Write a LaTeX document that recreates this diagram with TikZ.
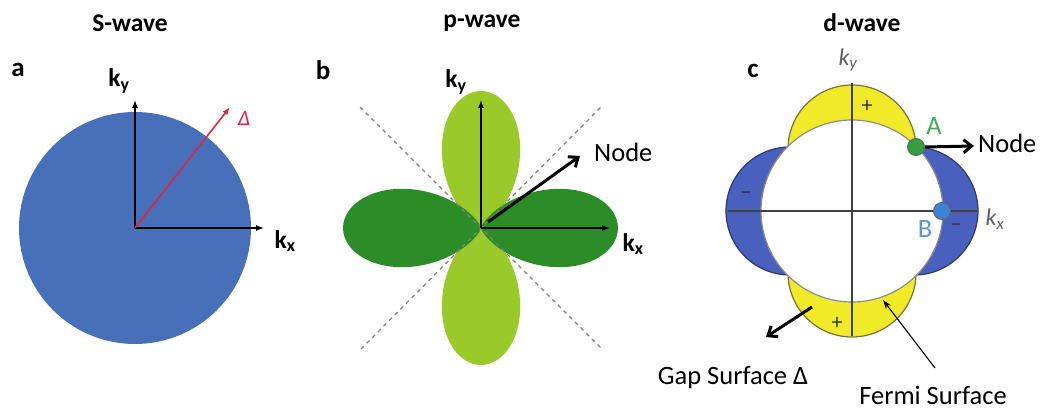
\documentclass[tikz,border=0pt]{standalone}
\usepackage{fontspec}
\setmainfont{Carlito}
\usetikzlibrary{arrows.meta}
\definecolor{sblue}{RGB}{72,112,186}
\definecolor{lgreen}{RGB}{154,202,42}
\definecolor{dgreen}{RGB}{44,140,40}
\definecolor{dyel}{RGB}{240,234,40}
\definecolor{dblue}{RGB}{74,96,190}
\definecolor{redarr}{RGB}{222,40,64}
\definecolor{ptA}{RGB}{50,160,60}
\definecolor{ptB}{RGB}{60,130,215}
\definecolor{labA}{RGB}{70,170,90}
\definecolor{labB}{RGB}{90,150,220}
\definecolor{kgray}{RGB}{95,95,95}
\tikzset{
  title/.style={font=\fontsize{25.5}{30}\selectfont\bfseries},
  letter/.style={font=\fontsize{27}{32}\selectfont\bfseries},
  kbold/.style={font=\fontsize{25.5}{30}\selectfont\bfseries},
  kit/.style={font=\fontsize{24}{28}\selectfont\itshape, text=kgray},
  txt/.style={font=\fontsize{26.5}{31}\selectfont},
  sign/.style={font=\fontsize{22}{26}\selectfont, text=black!80},
  axis/.style={line width=1.4pt, -{Latex[length=8pt,width=6pt]}},
  caxis/.style={line width=1.4pt, draw=black!75},
  thickarr/.style={line width=3pt, -{Straight Barb[length=8pt,width=13pt]}},
  thinarr/.style={line width=1.1pt, -{Stealth[length=9pt,width=6pt]}},
  ylobe/.style={fill=dyel, draw=black!30!olive!70!gray, line width=1.2pt},
  blobe/.style={fill=dblue, draw=black!40!dblue, line width=1.2pt},
  dot/.style={circle, minimum size=17pt, draw=black!60, line width=1pt, inner sep=0pt},
}
\begin{document}
\begin{tikzpicture}[x=1pt,y=-1pt, every node/.style={inner sep=0pt}]
\useasboundingbox (0,0) rectangle (1041,411);

% ---------- titles and panel letters ----------
\node[title] (tA) at (130,23) {S-wave};
\node[title] (tB) at (482,23) {p-wave};
\node[title] (tC) at (862,23) {d-wave};
\node[letter] (la) at (18,70) {a};
\node[letter] (lb) at (323,70) {b};
\node[letter] (lc) at (753,71) {c};

% ---------- panel a ----------
\coordinate (oa) at (135,228);
\fill[sblue] (oa) circle (116pt);
\coordinate (aY) at (135,100);
\coordinate (aX) at (264,228);
\coordinate (aD) at (230,107);
\draw[axis] (oa) -- (aY);
\draw[axis] (oa) -- (aX);
\draw[line width=1.6pt, draw=redarr, -{Latex[length=8pt,width=6pt]}] (oa) -- (aD);
\node[font=\fontsize{22}{26}\selectfont\itshape, text=redarr] (aDl) at (244,118) {Δ};
\node[kbold] (aky) at (119,81) {k\textsubscript{y}};
\node[kbold] (akx) at (285,241) {k\textsubscript{x}};

% ---------- panel b ----------
\coordinate (ob) at (481,228);
\fill[lgreen] plot[domain=-89.5:89.5, samples=120] ({481+137*cos(\x)^4*sin(\x)}, {228-137*cos(\x)^5}) -- cycle;
\fill[lgreen] plot[domain=-89.5:89.5, samples=120] ({481+137*cos(\x)^4*sin(\x)}, {228+137*cos(\x)^5}) -- cycle;
\fill[dgreen] plot[domain=-89.5:89.5, samples=120] ({481+137*cos(\x)^5}, {228+137*cos(\x)^4*sin(\x)}) -- cycle;
\fill[dgreen] plot[domain=-89.5:89.5, samples=120] ({481-138*cos(\x)^5}, {228+137*cos(\x)^4*sin(\x)}) -- cycle;
\coordinate (d1) at (360,107);
\coordinate (d2) at (603,350);
\coordinate (d3) at (603,105);
\coordinate (d4) at (361,349);
\draw[gray, line width=1.2pt, dash pattern=on 4pt off 4pt] (d1) -- (d2);
\draw[gray, line width=1.2pt, dash pattern=on 4pt off 4pt] (d4) -- (d3);
\coordinate (bY) at (481,100);
\coordinate (bX) at (610,228);
\draw[axis] (ob) -- (bY);
\draw[axis] (ob) -- (bX);
\coordinate (bN0) at (488,222);
\coordinate (bN1) at (580,156);
\draw[thickarr] (bN0) -- (bN1);
\node[txt, anchor=west] (bNode) at (594,152) {Node};
\node[kbold] (bky) at (456,82) {k\textsubscript{y}};
\node[kbold] (bkx) at (633,244) {k\textsubscript{x}};

% ---------- panel c ----------
\coordinate (oc) at (852,211);
\coordinate (lt) at (852,149);
\coordinate (lbt) at (852,273);
\coordinate (ll) at (790,211);
\coordinate (lr) at (914,211);
\draw[blobe] (ll) circle (64pt);
\draw[blobe] (lr) circle (64pt);
\draw[ylobe] (lt) circle (64pt);
\draw[ylobe] (lbt) circle (64pt);
\draw[fill=white, draw=black!45, line width=1.2pt] (oc) circle (91pt);
\coordinate (cL) at (728,211);
\coordinate (cR) at (977,211);
\coordinate (cT) at (852,83);
\coordinate (cB) at (852,336);
\draw[caxis] (cL) -- (cR);
\draw[caxis] (cT) -- (cB);
\node[kit] (cky) at (848,60) {k\textsubscript{y}};
\node[kit] (ckx) at (995,219) {k\textsubscript{x}};
\node[sign] (p1) at (867,106) {+};
\node[sign] (p2) at (837,323) {+};
\node[sign] (m1) at (746,196) {−};
\node[sign] (m2) at (956,228) {−};
% points A and B
\node[dot, fill=ptA] (A) at (916,147) {};
\node[dot, fill=ptB] (B) at (942,211) {};
\node[txt, text=labA] (Al) at (934,126) {A};
\node[txt, text=labB] (Bl) at (925,229) {B};
\coordinate (cN1) at (974,146);
\draw[thickarr] (A.east) -- (cN1);
\node[txt, anchor=west] (cNode) at (978,143) {Node};
% gap and fermi surface labels
\coordinate (g0) at (812,307);
\coordinate (g1) at (766,337);
\draw[thickarr] (g0) -- (g1);
\node[txt] (gap) at (733,378) {Gap Surface Δ};
\coordinate (f0) at (935,368);
\coordinate (f1) at (883,300);
\draw[thinarr] (f0) -- (f1);
\node[txt, anchor=base] (fermi) at (933,404) {Fermi Surface};
\end{tikzpicture}
\end{document}
